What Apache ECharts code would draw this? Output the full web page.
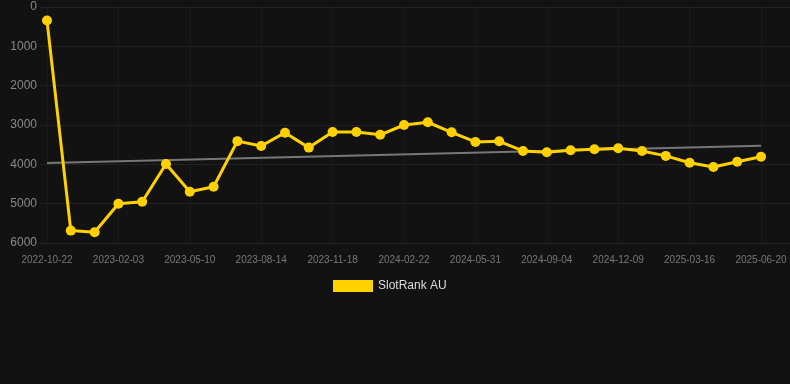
<!DOCTYPE html>
<html>
<head>
<meta charset="utf-8">
<script src="https://cdn.jsdelivr.net/npm/echarts@6/dist/echarts.min.js"></script>
<style>
  html, body { margin: 0; padding: 0; background: #121212; }
  #chart { width: 790px; height: 384px; }
</style>
</head>
<body>
<div id="chart"></div>
<script>
// categories (dates)
var dates = [
  '2022-10-22', '2022-11-26', '2022-12-30', '2023-02-03', '2023-03-08', '2023-04-09',
  '2023-05-10', '2023-06-11', '2023-07-13', '2023-08-14', '2023-09-15', '2023-10-17',
  '2023-11-18', '2023-12-20', '2024-01-21', '2024-02-22', '2024-03-26', '2024-04-28',
  '2024-05-31', '2024-07-02', '2024-08-03', '2024-09-04', '2024-10-06', '2024-11-07',
  '2024-12-09', '2025-01-10', '2025-02-12', '2025-03-16', '2025-04-17', '2025-05-19',
  '2025-06-20'
];

// rank values
var slotRank = [
  345, 5685, 5725, 5000, 4950, 3990,
  4695, 4570, 3410, 3535, 3195, 3575,
  3180, 3180, 3250, 3000, 2930, 3185,
  3430, 3415, 3660, 3695, 3640, 3615,
  3590, 3660, 3785, 3960, 4070, 3935,
  3805
];

// trend line end points
var trendStart = 3965;
var trendEnd = 3525;

var trend = dates.map(function (d, i) {
  if (i === 0) return trendStart;
  if (i === dates.length - 1) return trendEnd;
  return null;
});

var chart = echarts.init(document.getElementById('chart'));
chart.setOption({
  backgroundColor: '#121212',
  animation: false,
  grid: [
    { left: 47, right: 29, top: 7, bottom: 141 },
    { left: 40, right: 0, top: 7, bottom: 141 }
  ],
  legend: {
    data: ['SlotRank AU'],
    bottom: 87,
    left: 328,
    itemWidth: 40,
    itemHeight: 12,
    itemGap: 10,
    textStyle: { color: '#dddddd', fontSize: 12 },
    icon: 'rect'
  },
  xAxis: [
    {
      type: 'category',
      gridIndex: 0,
      data: dates,
      boundaryGap: false,
      axisLine: { show: false },
      axisTick: { show: false },
      axisLabel: { interval: 2, color: '#777777', fontSize: 10, margin: 12 },
      splitLine: { show: true, interval: 2, lineStyle: { color: '#1a1a1a', width: 1 } }
    },
    { type: 'value', gridIndex: 1, show: false }
  ],
  yAxis: [
    {
      type: 'value',
      gridIndex: 0,
      inverse: true,
      min: 0,
      max: 6000,
      interval: 1000,
      axisLine: { show: false },
      axisTick: { show: false },
      axisLabel: { color: '#888888', fontSize: 12, margin: 10, formatter: function (v) { return String(v); } },
      splitLine: { show: false }
    },
    {
      type: 'value',
      gridIndex: 1,
      inverse: true,
      min: 0,
      max: 6000,
      interval: 1000,
      axisLine: { show: false },
      axisTick: { show: false },
      axisLabel: { show: false },
      splitLine: { lineStyle: { color: '#222222', width: 1 } }
    }
  ],
  series: [
    {
      name: 'trend',
      type: 'line',
      data: trend,
      connectNulls: true,
      showSymbol: false,
      silent: true,
      lineStyle: { color: '#777777', width: 2 },
      z: 1
    },
    {
      name: 'SlotRank AU',
      type: 'line',
      data: slotRank,
      symbol: 'circle',
      symbolSize: 10,
      itemStyle: { color: '#ffd100' },
      lineStyle: { color: '#ffd100', width: 3 },
      z: 2
    }
  ]
});
</script>
</body>
</html>
